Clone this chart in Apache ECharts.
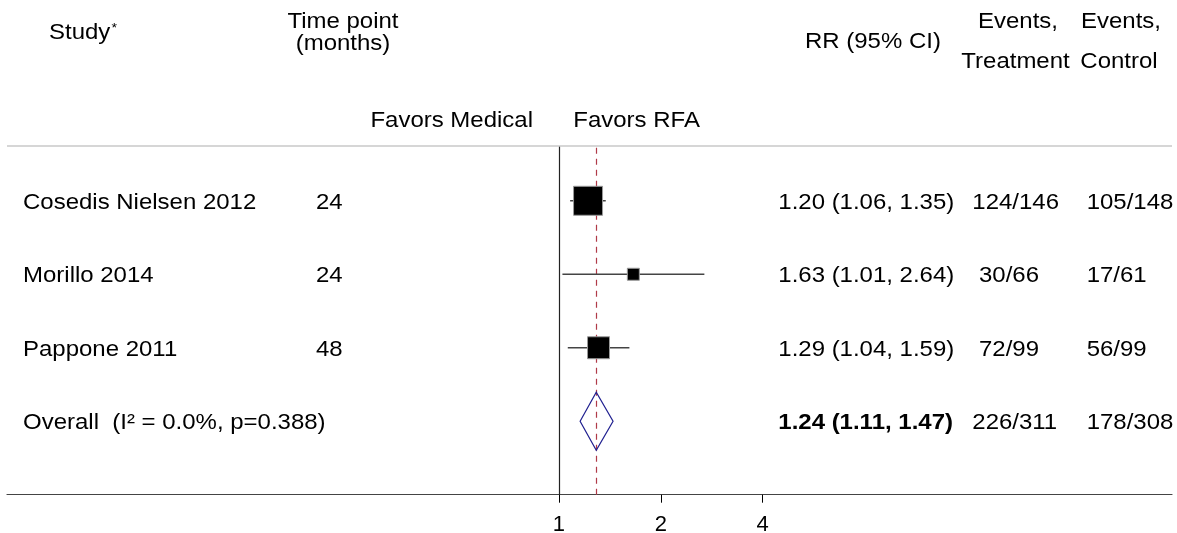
<!DOCTYPE html>
<html><head><meta charset="utf-8">
<script src="https://cdn.jsdelivr.net/npm/echarts@6/dist/echarts.min.js"></script>
<style>html,body{margin:0;padding:0;background:#fff}#c{width:1177px;height:533px}</style>
</head><body><div id="c"></div>
<script>
// ---------- data ----------
const studies = ['Cosedis Nielsen 2012', 'Morillo 2014', 'Pappone 2011'];
const timePoints = [24, 24, 48];
const rrLabels = ['1.20 (1.06, 1.35)', '1.63 (1.01, 2.64)', '1.29 (1.04, 1.59)'];
// plotted positions
const estimates = [1.22, 1.66, 1.31];
const lowerCI = [1.08, 1.025, 1.063];
const upperCI = [1.376, 2.69, 1.616];
const weights = [57.3, 9.8, 32.9];
const treatEvents = [124, 30, 72];
const treatTotals = [146, 66, 99];
const controlEvents = [105, 17, 56];
const controlTotals = [148, 61, 99];
const overallText = 'Overall  (I\u00B2 = 0.0%, p=0.388)';
const overallRR = '1.24 (1.11, 1.47)';
const overallEst = 1.29, overallLo = 1.156, overallHi = 1.446;
const overallTreat = [226, 311];
const overallControl = [178, 308];
const axisTicks = [1, 2, 4];

// ---------- layout / style ----------
const FONT = '"Liberation Sans", Arial, sans-serif';
const FS = 22, SX = 1.09;
const COL = { study: 23, time: 316, rr: 778.3, treat: 972.3, ctrl: 1086.7 };
const TEXT_DY = 2;
const BOX_K = 3.83;
const DIAMOND_H = 29;
const HEADER_RULE = 0.25;
const nStudies = studies.length;
const overallRow = nStudies + 1;

function frac(e, t, pad) { return String(e).padStart(pad, ' ') + '/' + t; }

function txt(x, y, text, align, extra) {
  return {
    type: 'text', x: x, y: y, scaleX: SX, silent: true,
    style: Object.assign({
      text: text, fill: '#000', fontFamily: FONT, fontSize: FS,
      align: align || 'left', verticalAlign: 'middle',
      rich: { sup: { fontSize: 13, fontFamily: FONT, verticalAlign: 'top', fill: '#000', padding: [0, 0, 10, 1] } }
    }, extra || {})
  };
}

const rowsData = studies.map((s, i) => [1, i + 1, i]);
rowsData.push([1, overallRow, -1]);

const option = {
  animation: false,
  backgroundColor: '#fff',
  grid: { left: 7, right: 5, top: 127.3, bottom: 38.3, containLabel: false, outerBoundsMode: 'none' },
  xAxis: {
    type: 'log', logBase: 2, min: 0.0235, max: 64.6, position: 'bottom',
    axisLine: { show: true, onZero: false, lineStyle: { color: '#444', width: 1.2 } },
    axisTick: { show: true, customValues: axisTicks, length: 8, lineStyle: { color: '#000', width: 1 } },
    axisLabel: { show: true, customValues: axisTicks, fontSize: FS, fontFamily: FONT, color: '#000', margin: 19,
      formatter: v => String(Math.round(v)) },
    splitLine: { show: false }, minorTick: { show: false }, minorSplitLine: { show: false }
  },
  yAxis: { type: 'value', inverse: true, min: 0, max: 5, show: false },
  graphic: [
    txt(49, 33, 'Study{sup|*}', 'left'),
    txt(343, 22, 'Time point', 'center'),
    txt(343, 44, '(months)', 'center'),
    txt(805, 42, 'RR (95% CI)', 'left'),
    txt(1018, 22, 'Events,', 'center'),
    txt(1015.5, 61.5, 'Treatment', 'center'),
    txt(1121, 22, 'Events,', 'center'),
    txt(1119, 61.5, 'Control', 'center'),
    txt(533, 121, 'Favors Medical', 'right'),
    txt(573.3, 121, 'Favors RFA', 'left')
  ],
  series: [
    {
      type: 'custom', name: 'studies', silent: true, z: 5,
      data: studies.map((s, i) => [estimates[i], i + 1, lowerCI[i], upperCI[i], weights[i]]),
      encode: { x: 0, y: 1 },
      renderItem: function (params, api) {
        const row = api.value(1);
        const c = api.coord([api.value(0), row]);
        const lo = api.coord([api.value(2), row]);
        const hi = api.coord([api.value(3), row]);
        const side = BOX_K * Math.sqrt(api.value(4));
        return { type: 'group', children: [
          { type: 'line', shape: { x1: lo[0], y1: c[1], x2: hi[0], y2: c[1] }, style: { stroke: '#444', lineWidth: 1.4 } },
          { type: 'rect', shape: { x: c[0] - side / 2, y: c[1] - side / 2, width: side, height: side },
            style: { fill: '#000', stroke: '#9a9a9a', lineWidth: 1 } }
        ] };
      },
      markLine: {
        silent: true, symbol: ['none', 'none'], label: { show: false },
        data: [
          [{ coord: [1, HEADER_RULE + 0.005], lineStyle: { color: '#222', width: 1.2, type: 'solid' } }, { coord: [1, 5] }],
          [{ coord: [overallEst, HEADER_RULE + 0.03], lineStyle: { color: '#b03a48', width: 1.2, type: [6, 5] } }, { coord: [overallEst, 5] }],
          { yAxis: HEADER_RULE, lineStyle: { color: '#c8c8c8', width: 1.5, type: 'solid' } }
        ]
      }
    },
    {
      type: 'custom', name: 'overall', silent: true, z: 6,
      data: [[overallEst, overallRow, overallLo, overallHi]],
      encode: { x: 0, y: 1 },
      renderItem: function (params, api) {
        const row = api.value(1);
        const c = api.coord([api.value(0), row]);
        const lo = api.coord([api.value(2), row]);
        const hi = api.coord([api.value(3), row]);
        return { type: 'polygon',
          shape: { points: [[lo[0], c[1]], [c[0], c[1] - DIAMOND_H], [hi[0], c[1]], [c[0], c[1] + DIAMOND_H]] },
          style: { fill: 'none', stroke: '#202090', lineWidth: 1.2 } };
      }
    },
    {
      type: 'custom', name: 'table', silent: true, z: 7,
      data: rowsData,
      encode: { x: 0, y: 1 },
      renderItem: function (params, api) {
        const row = api.value(1);
        const idx = api.value(2);
        const y = api.coord([1, row])[1] + TEXT_DY;
        if (idx >= 0) {
          return { type: 'group', children: [
            txt(COL.study, y, studies[idx]),
            txt(COL.time, y, String(timePoints[idx])),
            txt(COL.rr, y, rrLabels[idx]),
            txt(COL.treat, y, frac(treatEvents[idx], treatTotals[idx], 3)),
            txt(COL.ctrl, y, frac(controlEvents[idx], controlTotals[idx], 0))
          ] };
        }
        return { type: 'group', children: [
          txt(COL.study, y, overallText),
          txt(COL.rr, y, overallRR, 'left', { fontWeight: 'bold' }),
          txt(COL.treat, y, frac(overallTreat[0], overallTreat[1], 3)),
          txt(COL.ctrl, y, frac(overallControl[0], overallControl[1], 0))
        ] };
      }
    }
  ]
};

const chart = echarts.init(document.getElementById('c'), null, { renderer: 'canvas' });
chart.setOption(option);
</script>
</body></html>
